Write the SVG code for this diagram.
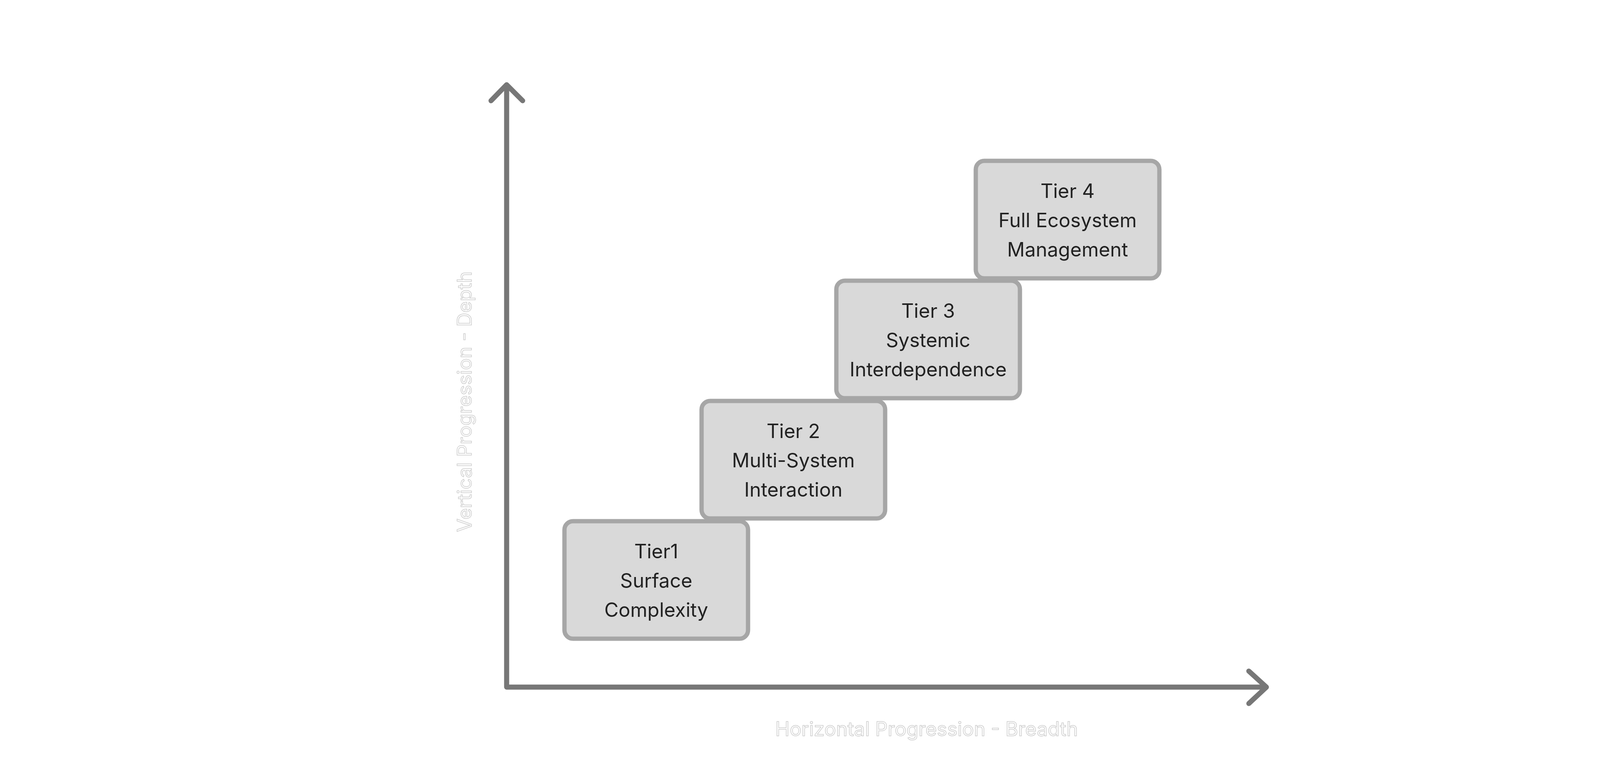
<svg xmlns="http://www.w3.org/2000/svg" width="4212" height="1980" viewBox="0 0 4212 1980">
<style>
.box{fill:#d9d9d9;stroke:#a6a6a6;stroke-width:11}
.t{font-family:Inter,"Noto Sans",sans-serif;font-size:50px;fill:#222;text-anchor:middle}
.ax{fill:none;stroke:#777;stroke-width:13;stroke-linecap:round;stroke-linejoin:round}
.lab{font-family:Inter,"Noto Sans",sans-serif;font-size:50px;fill:#fff;stroke:#ccc;stroke-width:1.5;text-anchor:middle}
</style>
<rect width="4212" height="1980" fill="#fff"/>
<g id="connectors">
<path class="ax" d="M1297 222V1760H3240"/>
<path class="ax" d="M1257 258L1297 217L1338 258"/>
<path class="ax" d="M3197 1719L3242 1760L3197 1802"/>
</g>
<text class="lab" x="2372" y="1885">Horizontal Progression - Breadth</text>
<text class="lab" transform="translate(1207,1029) rotate(-90)">Vertical Progression - Depth</text>
<g id="tier1"><rect class="box" x="1445" y="1335" width="470" height="301" rx="22"/>
<text class="t" x="1680" y="1430">Tier1</text><text class="t" x="1680" y="1505">Surface</text><text class="t" x="1680" y="1580">Complexity</text></g>
<g id="tier2"><rect class="box" x="1796" y="1027" width="470" height="301" rx="22"/>
<text class="t" x="2031" y="1122">Tier 2</text><text class="t" x="2031" y="1197">Multi-System</text><text class="t" x="2031" y="1272">Interaction</text></g>
<g id="tier3"><rect class="box" x="2141" y="719" width="470" height="301" rx="22"/>
<text class="t" x="2376" y="814">Tier 3</text><text class="t" x="2376" y="889">Systemic</text><text class="t" x="2376" y="964">Interdependence</text></g>
<g id="tier4"><rect class="box" x="2498" y="412" width="470" height="301" rx="22"/>
<text class="t" x="2733" y="507">Tier 4</text><text class="t" x="2733" y="582">Full Ecosystem</text><text class="t" x="2733" y="657">Management</text></g>
</svg>
